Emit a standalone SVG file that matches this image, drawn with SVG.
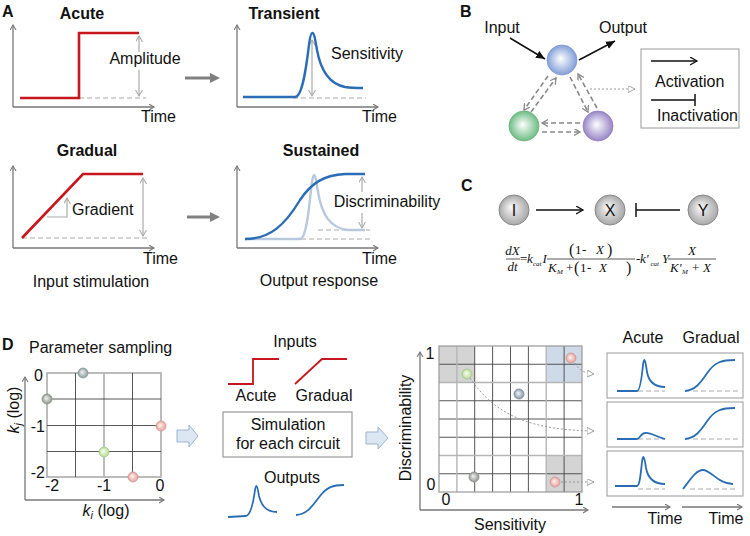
<svg xmlns="http://www.w3.org/2000/svg" width="750" height="536" viewBox="0 0 750 536">
<defs>
<style>
text{font-family:"Liberation Sans",Arial,sans-serif;font-size:16px;fill:#111}
.b{font-weight:bold}
.L{font-weight:bold;font-size:16px}
.m{text-anchor:middle}
.e{text-anchor:end}
.ax{stroke:#777;stroke-width:1.3;fill:none}
.dash{stroke:#aaa;stroke-width:1.2;stroke-dasharray:5,3;fill:none}
.red{stroke:#c8161e;stroke-width:2.6;fill:none}
.blue{stroke:#2a6db5;stroke-width:2.4;fill:none}
.lblue{stroke:#b8c9dd;stroke-width:2.4;fill:none}
.meas{stroke:#aaa;stroke-width:1.2;fill:none}
.garr{stroke:#808080;stroke-width:3;fill:none}
.bd{stroke:#888;stroke-width:1.6;stroke-dasharray:5,3;fill:none}
.dot{stroke:#999;stroke-width:1;stroke-dasharray:2,2;fill:none}
.blk{stroke:#111;stroke-width:1.5;fill:none}
.eq{font-family:"Liberation Serif","Times New Roman",serif;font-style:italic;font-size:13px}
.up{font-family:"Liberation Serif","Times New Roman",serif;font-size:13px}
.par{font-family:"Liberation Serif","Times New Roman",serif;font-size:16px}
.sub{font-family:"Liberation Serif","Times New Roman",serif;font-style:italic;font-size:7px}
.gl{stroke:#444;stroke-width:0.9}
.gg{stroke:#b5b5b5;stroke-width:1.8}
.box{fill:#fff;stroke:#aaa;stroke-width:1.2}
.blkarr{fill:#dde7f3;stroke:#9db3cd;stroke-width:1}
.fl{stroke:#111;stroke-width:0.7}
</style>
<marker id="chev" markerUnits="userSpaceOnUse" markerWidth="8" markerHeight="8" refX="5" refY="3" orient="auto"><path d="M0,0 L5,3 L0,6" fill="none" stroke="#777" stroke-width="1.1"/></marker>
<marker id="mch" markerUnits="userSpaceOnUse" markerWidth="10" markerHeight="10" refX="6" refY="3.5" orient="auto-start-reverse"><path d="M0,0 L6,3.5 L0,7" fill="none" stroke="#aaa" stroke-width="1.1"/></marker>
<marker id="gtri" markerUnits="userSpaceOnUse" markerWidth="12" markerHeight="12" refX="2" refY="5" orient="auto"><path d="M0,0 L10,5 L0,10 Z" fill="#808080"/></marker>
<marker id="btri" markerUnits="userSpaceOnUse" markerWidth="12" markerHeight="12" refX="9" refY="4" orient="auto"><path d="M0,0 L9,4 L0,8 Z" fill="#111"/></marker>
<marker id="bch" markerUnits="userSpaceOnUse" markerWidth="10" markerHeight="10" refX="7" refY="4" orient="auto"><path d="M0,0 L7,4 L0,8" fill="none" stroke="#111" stroke-width="1.3"/></marker>
<marker id="dch" markerUnits="userSpaceOnUse" markerWidth="10" markerHeight="10" refX="6" refY="3.5" orient="auto"><path d="M0,0 L6,3.5 L0,7" fill="none" stroke="#888" stroke-width="1.3"/></marker>
<marker id="otri" markerUnits="userSpaceOnUse" markerWidth="10" markerHeight="10" refX="7" refY="3.5" orient="auto"><path d="M0,0 L7,3.5 L0,7 Z" fill="#fff" stroke="#999" stroke-width="0.9"/></marker>
<radialGradient id="gBlue" cx="50%" cy="50%" r="50%" fx="45%" fy="45%"><stop offset="0" stop-color="#fff"/><stop offset="1" stop-color="#829fd8"/></radialGradient>
<radialGradient id="gGreen" cx="50%" cy="50%" r="50%" fx="45%" fy="45%"><stop offset="0" stop-color="#fff"/><stop offset="1" stop-color="#6dbd84"/></radialGradient>
<radialGradient id="gPurp" cx="50%" cy="50%" r="50%" fx="45%" fy="45%"><stop offset="0" stop-color="#fff"/><stop offset="1" stop-color="#9785c6"/></radialGradient>
<radialGradient id="gGray" cx="50%" cy="50%" r="50%" fx="40%" fy="40%"><stop offset="0" stop-color="#fafafa"/><stop offset="1" stop-color="#a8a8a8"/></radialGradient>
<radialGradient id="sGray" cx="50%" cy="50%" r="50%" fx="40%" fy="40%"><stop offset="0" stop-color="#f4f4f4"/><stop offset="1" stop-color="#8f978f"/></radialGradient>
<radialGradient id="sTeal" cx="50%" cy="50%" r="50%" fx="40%" fy="40%"><stop offset="0" stop-color="#f4f4f4"/><stop offset="1" stop-color="#8a9ea0"/></radialGradient>
<radialGradient id="sPink" cx="50%" cy="50%" r="50%" fx="40%" fy="40%"><stop offset="0" stop-color="#fff6f2"/><stop offset="1" stop-color="#e8a09a"/></radialGradient>
<radialGradient id="sGreen" cx="50%" cy="50%" r="50%" fx="40%" fy="40%"><stop offset="0" stop-color="#fbfff4"/><stop offset="1" stop-color="#b6dc96"/></radialGradient>
<radialGradient id="sBlue" cx="50%" cy="50%" r="50%" fx="40%" fy="40%"><stop offset="0" stop-color="#f4f6f8"/><stop offset="1" stop-color="#8898a8"/></radialGradient>
</defs>
<rect width="750" height="536" fill="#fff"/>

<!-- Panel labels -->
<text x="2" y="17" class="L">A</text>
<text x="460" y="17" class="L">B</text>
<text x="461" y="191" class="L">C</text>
<text x="2" y="350" class="L">D</text>

<!-- Panel A -->
<g id="acute">
<text x="82" y="19" class="b m">Acute</text>
<path class="ax" d="M13,107 V25" marker-end="url(#chev)"/>
<path class="ax" d="M13,107 H154" marker-end="url(#chev)"/>
<path class="dash" d="M79,98 H146"/>
<path class="red" d="M20,98 H79 V33 H139"/>
<path class="meas" d="M139,52 V36" marker-end="url(#mch)"/>
<path class="meas" d="M139,70 V96" marker-end="url(#mch)"/>
<text x="145" y="64" class="m">Amplitude</text>
<text x="141" y="122">Time</text>
</g>
<g id="transient">
<text x="284" y="19" class="b m">Transient</text>
<path class="ax" d="M237,107 V25" marker-end="url(#chev)"/>
<path class="ax" d="M237,107 H378" marker-end="url(#chev)"/>
<path class="dash" d="M293,98 H366"/>
<path class="meas" d="M312,40 V96" marker-start="url(#mch)" marker-end="url(#mch)"/>
<path class="blue" d="M243,97 L295,97 C302,97 306,70 309,45 C310,36 311,33 312.5,33 C314,33 315,38 317,50 C321,72 330,84 345,87 C352,88 358,88 363,88"/>
<text x="331" y="59">Sensitivity</text>
<text x="362" y="122">Time</text>
</g>
<g id="gradual">
<text x="87" y="156" class="b m">Gradual</text>
<path class="ax" d="M13,248 V166" marker-end="url(#chev)"/>
<path class="ax" d="M13,248 H154" marker-end="url(#chev)"/>
<path class="dash" d="M22,238 H150"/>
<path d="M47,217 H67 V198" stroke="#aaa" stroke-width="1.2" fill="none" marker-end="url(#mch)"/>
<path class="red" d="M22,238 L83,174 H143"/>
<path class="meas" d="M143,178 V236" marker-start="url(#mch)" marker-end="url(#mch)"/>
<text x="72" y="215">Gradient</text>
<text x="143" y="264">Time</text>
<text x="91" y="287" class="m">Input stimulation</text>
</g>
<g id="sustained">
<text x="321" y="156" class="b m">Sustained</text>
<path class="ax" d="M237,248 V166" marker-end="url(#chev)"/>
<path class="ax" d="M237,248 H378" marker-end="url(#chev)"/>
<path class="dash" d="M318,230 H370 M245,239 H370"/>
<path class="lblue" d="M245,239 L300,239 C306,239 309,210 311,190 C312,180 313,175 314,175 C315,175 316,180 318,192 C322,215 330,228 348,230 L365,230"/>
<path class="blue" d="M245,239 C270,239 285,225 300,200 C312,182 325,175 345,174 L365,174"/>
<path class="meas" d="M362,192 V177" marker-end="url(#mch)"/>
<path class="meas" d="M362,213 V228" marker-end="url(#mch)"/>
<text x="387" y="207" class="m">Discriminability</text>
<text x="362" y="264">Time</text>
<text x="319" y="286" class="m">Output response</text>
</g>
<g id="A-arrows">
<path class="garr" d="M185,78 H212" marker-end="url(#gtri)"/>
<path class="garr" d="M187,217 H212" marker-end="url(#gtri)"/>
</g>

<!-- Panel B -->
<g id="B-connectors">
<path class="blk" d="M510,38 L545,59" marker-end="url(#btri)"/>
<path class="blk" d="M579,60 L615,41" marker-end="url(#btri)"/>
<path class="bd" d="M548,76 L524,110" marker-end="url(#dch)"/>
<path class="bd" d="M531,112 L556,78" marker-end="url(#dch)"/>
<path class="bd" d="M570,77 L588,112" marker-end="url(#dch)"/>
<path class="bd" d="M597,108 L578,74" marker-end="url(#dch)"/>
<path class="bd" d="M580,123 L542,123" marker-end="url(#dch)"/>
<path class="bd" d="M542,132 L580,132" marker-end="url(#dch)"/>
<path class="dot" d="M590,89 H635" marker-end="url(#otri)"/>
</g>
<text x="502" y="33" class="m">Input</text>
<text x="623" y="33" class="m">Output</text>
<g id="B-blue"><circle cx="562" cy="60" r="15" fill="url(#gBlue)" stroke="#7f98cf" stroke-width="0.8"/></g>
<g id="B-green"><circle cx="524" cy="126" r="15" fill="url(#gGreen)" stroke="#6aae7e" stroke-width="0.8"/></g>
<g id="B-purple"><circle cx="598" cy="126" r="15" fill="url(#gPurp)" stroke="#8f7fbd" stroke-width="0.8"/></g>
<g id="B-legend">
<rect x="641" y="49" width="98" height="79" fill="#fff" stroke="#999" stroke-width="1"/>
<path class="blk" d="M651,61 H697" marker-end="url(#bch)"/>
<text x="655" y="87">Activation</text>
<path class="blk" d="M651,100 H695 M695,94 V106"/>
<text x="657" y="121">Inactivation</text>
</g>

<!-- Panel C -->
<g id="C-connectors">
<path class="blk" d="M536,210 H583" marker-end="url(#bch)"/>
<path class="blk" d="M680,210 H636 M636,203 V217"/>
</g>
<g id="C-I"><circle cx="514" cy="210" r="15" fill="url(#gGray)" stroke="#888" stroke-width="1"/><text x="514" y="216" class="m">I</text></g>
<g id="C-X"><circle cx="610" cy="210" r="15" fill="url(#gGray)" stroke="#888" stroke-width="1"/><text x="610" y="216" class="m">X</text></g>
<g id="C-Y"><circle cx="703" cy="210" r="15" fill="url(#gGray)" stroke="#888" stroke-width="1"/><text x="703" y="216" class="m">Y</text></g>
<g id="equation">
<text x="512.5" y="255" class="eq m">dX</text>
<line class="fl" x1="506" y1="259" x2="520" y2="259"/>
<text x="512.5" y="271" class="eq m">dt</text>
<text x="520" y="263" class="up">=</text>
<text x="527" y="263" class="eq">k</text>
<text x="533" y="266" class="sub">cat</text>
<text x="542.5" y="263" class="eq">I</text>
<text x="569" y="255" class="par">(</text>
<text x="575" y="254" class="up">1</text>
<text x="582" y="254" class="up">-</text>
<text x="596" y="254" class="eq">X</text>
<text x="607" y="255" class="par">)</text>
<line class="fl" x1="547" y1="259" x2="635" y2="259"/>
<text x="548" y="272" class="eq">K</text>
<text x="557" y="274" class="sub">M</text>
<text x="566" y="272" class="up">+</text>
<text x="574" y="273" class="par">(</text>
<text x="580" y="272" class="up">1</text>
<text x="587" y="272" class="up">-</text>
<text x="599" y="272" class="eq">X</text>
<text x="626" y="273" class="par">)</text>
<text x="636" y="263" class="up">-</text>
<text x="640" y="263" class="eq">k'</text>
<text x="650.5" y="266" class="sub">cat</text>
<text x="662" y="263" class="eq">Y</text>
<text x="692" y="255" class="eq m">X</text>
<line class="fl" x1="668" y1="259" x2="716" y2="259"/>
<text x="670" y="272" class="eq">K'</text>
<text x="682" y="274" class="sub">M</text>
<text x="692" y="272" class="up">+</text>
<text x="703" y="272" class="eq">X</text>
</g>

<!-- Panel D: parameter sampling -->
<g id="param">
<text x="29" y="353">Parameter sampling</text>
<rect x="47" y="373" width="114" height="104" fill="#fff" stroke="#b5b5b5" stroke-width="1.8"/>
<line class="gl" x1="75.5" y1="373" x2="75.5" y2="477"/>
<line class="gl" x1="132.5" y1="373" x2="132.5" y2="477"/>
<line class="gg" x1="104" y1="373" x2="104" y2="477"/>
<line class="gl" x1="47" y1="399" x2="161" y2="399"/>
<line class="gl" x1="47" y1="425.5" x2="161" y2="425.5"/>
<line class="gl" x1="47" y1="451.5" x2="161" y2="451.5"/>
<path class="ax" d="M25,500 V377" marker-end="url(#chev)"/>
<path class="ax" d="M25,500 H164" marker-end="url(#chev)"/>
<text x="43" y="381" class="e">0</text>
<text x="45" y="432" class="e">-1</text>
<text x="45" y="478" class="e">-2</text>
<text x="52" y="491" class="m">-2</text>
<text x="104" y="491" class="m">-1</text>
<text x="160" y="491" class="m">0</text>
<text x="106" y="516" class="m"><tspan font-style="italic">k</tspan><tspan font-size="11" dy="3" font-style="italic">i</tspan><tspan dy="-3"> (log)</tspan></text>
<text transform="translate(19,410) rotate(-90)" class="m"><tspan font-style="italic">k</tspan><tspan font-size="11" dy="3" font-style="italic">j</tspan><tspan dy="-3"> (log)</tspan></text>
<circle cx="83" cy="373" r="5" fill="url(#sTeal)" stroke="#8a9a98" stroke-width="0.8"/>
<circle cx="47" cy="399" r="5" fill="url(#sGray)" stroke="#8a928a" stroke-width="0.8"/>
<circle cx="161" cy="426" r="5" fill="url(#sPink)" stroke="#d09a96" stroke-width="0.8"/>
<circle cx="104" cy="452" r="5" fill="url(#sGreen)" stroke="#a4c888" stroke-width="0.8"/>
<circle cx="133" cy="477" r="5" fill="url(#sPink)" stroke="#c89a9a" stroke-width="0.8"/>
</g>
<g id="block-arrows">
<path class="blkarr" d="M177,430 H189 V425 L198,436 L189,447 V442 H177 Z"/>
<path class="blkarr" d="M366,432 H378 V427 L388,438 L378,449 V444 H366 Z"/>
</g>

<!-- Panel D: simulation -->
<g id="simulation">
<text x="295" y="347" class="m">Inputs</text>
<path class="red" style="stroke-width:1.8" d="M228,384 H253 V359 H279"/>
<path class="red" style="stroke-width:1.8" d="M295,384 L322,359 H347"/>
<text x="256" y="401" class="m">Acute</text>
<text x="324" y="401" class="m">Gradual</text>
<rect x="223" y="412" width="129" height="45" class="box" style="stroke:#999"/>
<text x="288" y="430" class="m">Simulation</text>
<text x="288" y="449" class="m">for each circuit</text>
<text x="292" y="483" class="m">Outputs</text>
<path class="blue" style="stroke-width:1.8" d="M228,517 L246,516 C250,515 253,505 255,490 C255.5,487 256,486 256.5,486 C257,486 258,490 259,496 C262,508 268,512 277,512"/>
<path class="blue" style="stroke-width:1.8" d="M296,515 C308,514 313,505 320,496 C327,487 333,485 344,485"/>
</g>

<!-- Panel D: sensitivity-discriminability grid -->
<g id="grid">
<rect x="439" y="346" width="143" height="146" fill="#fff"/>
<rect x="439" y="346" width="35.7" height="36.5" fill="#d4d4d4"/>
<rect x="546.3" y="346" width="35.7" height="36.5" fill="#cfdae8"/>
<rect x="546.3" y="455.5" width="35.7" height="36.5" fill="#d4d4d4"/>
<g class="gl">
<line x1="474.7" y1="346" x2="474.7" y2="492"/>
<line x1="492.6" y1="346" x2="492.6" y2="492"/>
<line x1="510.5" y1="346" x2="510.5" y2="492"/>
<line x1="528.4" y1="346" x2="528.4" y2="492"/>
<line x1="564.1" y1="346" x2="564.1" y2="492"/>
<line x1="439" y1="364.25" x2="582" y2="364.25"/>
<line x1="439" y1="400.75" x2="582" y2="400.75"/>
<line x1="439" y1="419" x2="582" y2="419"/>
<line x1="439" y1="437.25" x2="582" y2="437.25"/>
<line x1="439" y1="473.75" x2="582" y2="473.75"/>
</g>
<g class="gg" style="stroke-width:1.4">
<line x1="456.9" y1="346" x2="456.9" y2="492"/>
<line x1="546.2" y1="346" x2="546.2" y2="492"/>
<line x1="439" y1="382.5" x2="582" y2="382.5"/>
<line x1="439" y1="455.5" x2="582" y2="455.5"/>
</g>
<rect x="439" y="346" width="143" height="146" fill="none" stroke="#999" stroke-width="1.2"/>
<path class="ax" d="M420,510 V352" marker-end="url(#chev)"/>
<path class="ax" d="M420,510 H588" marker-end="url(#chev)"/>
<text x="430" y="359" class="m">1</text>
<text x="431" y="490" class="m">0</text>
<text x="446" y="505" class="m">0</text>
<text x="579" y="505" class="m">1</text>
<text transform="translate(411,428) rotate(-90)" class="m">Discriminability</text>
<text x="510" y="530" class="m">Sensitivity</text>
</g>
<g id="D-connectors">
<path class="dot" d="M575,363 Q580,373 594,374" marker-end="url(#otri)"/>
<path class="dot" d="M470,378 C495,415 530,430 594,431" marker-end="url(#otri)"/>
<path class="dot" d="M561,482 H594" marker-end="url(#otri)"/>
</g>
<g id="grid-points">
<circle cx="571" cy="358" r="5" fill="url(#sPink)" stroke="#d09a8a" stroke-width="0.8"/>
<circle cx="467" cy="374" r="5" fill="url(#sGreen)" stroke="#a4c888" stroke-width="0.8"/>
<circle cx="519" cy="394" r="5" fill="url(#sBlue)" stroke="#7d8a98" stroke-width="0.8"/>
<circle cx="474" cy="477" r="5" fill="url(#sGray)" stroke="#8a928a" stroke-width="0.8"/>
<circle cx="555" cy="482" r="5" fill="url(#sPink)" stroke="#c89a9a" stroke-width="0.8"/>
</g>

<!-- Panel D: example responses -->
<g id="responses">
<text x="643" y="343" class="m">Acute</text>
<text x="711" y="343" class="m">Gradual</text>
<g id="resp1">
<rect x="607" y="353" width="136" height="45" class="box"/>
<path class="dash" d="M638,391 H665 M693,391 H738"/>
<path class="blue" style="stroke-width:1.8" d="M617,391 L637,391 C640,391 642,375 643,365 C643.5,361 644,360 644.5,360 C645,360 646,364 647,372 C649,383 655,387 665,387"/>
<path class="blue" style="stroke-width:1.8" d="M685,391 C697,390 702,380 708,372 C715,362 722,360 735,360"/>
</g>
<g id="resp2">
<rect x="607" y="402" width="136" height="45" class="box"/>
<path class="dash" d="M638,439 H665 M693,439 H738"/>
<path class="blue" style="stroke-width:1.8" d="M617,439 L637,439 C640,439 641,433 645,433 C650,432 657,437 665,439"/>
<path class="blue" style="stroke-width:1.8" d="M685,439 C697,438 702,428 708,420 C715,410 722,408 735,408"/>
</g>
<g id="resp3">
<rect x="607" y="451" width="136" height="45" class="box"/>
<path class="dash" d="M638,489 H665 M690,489 H738"/>
<path class="blue" style="stroke-width:1.8" d="M615,486 L637,486 C640,486 641,470 642,462 C642.5,458 643,457 643.5,457 C644,457 645,461 646,468 C648,479 654,484 665,484"/>
<path class="blue" style="stroke-width:1.8" d="M683,489 C690,480 696,470 703,470 C711,470 718,484 733,484"/>
</g>
<path class="ax" d="M612,507 H670" marker-end="url(#chev)"/>
<path class="ax" d="M682,507 H742" marker-end="url(#chev)"/>
<text x="665" y="524" class="m">Time</text>
<text x="726" y="524" class="m">Time</text>
</g>
</svg>
